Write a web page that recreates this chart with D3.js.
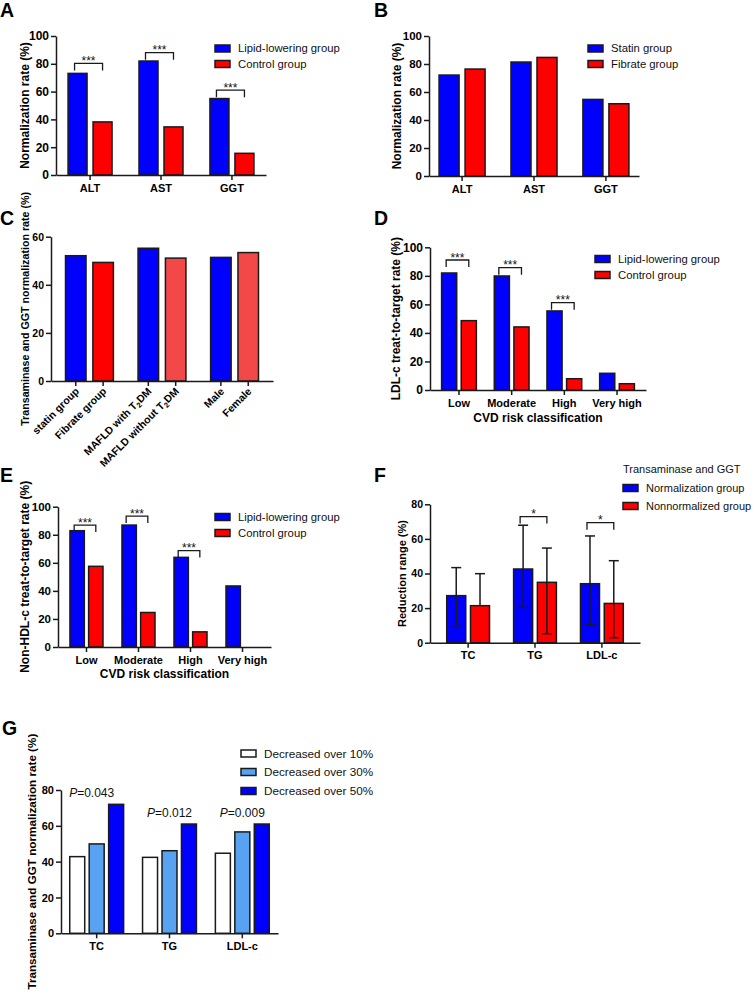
<!DOCTYPE html>
<html>
<head>
<meta charset="utf-8">
<script src="https://cdn.jsdelivr.net/npm/d3@7"></script>
<style>
  html, body { margin: 0; padding: 0; background: #fff; }
  svg { display: block; }
</style>
</head>
<body>
<script>
// ---------------- DATA ----------------
// Panel A
const aCats = ["ALT", "AST", "GGT"];
const aLipid = [73.1, 82.0, 55.0];
const aControl = [38.2, 34.6, 15.6];
const aBrackets = [80.3, 88.0, 61.0];
const aStars = ["***", "***", "***"];
// Panel B
const bCats = ["ALT", "AST", "GGT"];
const bStatin = [72.1, 81.4, 54.7];
const bFibrate = [76.4, 84.7, 51.6];
// Panel C
const cLabels = ["statin group", "Fibrate group", "MAFLD with T2DM", "MAFLD without T2DM", "Male", "Female"];
const cValues = [52.1, 49.3, 55.2, 51.1, 51.4, 53.4];
const cColors = ["#0000ff", "#ff0000", "#0000ff", "#f24848", "#0000ff", "#f24848"];
// Panel D
const riskCats = ["Low", "Moderate", "High", "Very high"];
const dLipid = [82.0, 79.9, 55.4, 11.7];
const dControl = [48.6, 44.2, 7.9, 4.4];
const dBrackets = [91.1, 85.7, 61.2, null];
const dStars = ["***", "***", "***", ""];
// Panel E
const eLipid = [82.9, 86.9, 63.9, 43.5];
const eControl = [57.5, 24.6, 10.8, 0];
const eBrackets = [86.9, 93.3, 68.7, null];
const eStars = ["***", "***", "***", ""];
// Panel F
const lipidCats = ["TC", "TG", "LDL-c"];
const fNorm = [27.2, 42.6, 34.1];
const fNormHi = [43.4, 67.9, 61.7];
const fNormLo = [9.8, 20.4, 10.6];
const fNon = [21.4, 34.9, 22.7];
const fNonHi = [39.9, 54.7, 47.4];
const fNonLo = [null, 5.2, 2.9];
const fBrackets = [null, 72.9, 69.4];
const fStars = ["", "*", "*"];
// Panel G
const g10 = [42.8, 42.4, 44.7];
const g30 = [49.9, 46.1, 56.6];
const g50 = [72.0, 61.0, 61.0];
const gP = ["0.043", "0.012", "0.009"];
// Ticks
const ticks100 = [0, 20, 40, 60, 80, 100];
const ticks80 = [0, 20, 40, 60, 80];
const ticks60 = [0, 20, 40, 60];

// ---------------- STYLE ----------------
const FONT = "'Liberation Sans', Arial, Helvetica, sans-serif";
const BLUE = "#0000ff", RED = "#ff0000", LBLUE = "#57a3f2", WHITE = "#ffffff";
const INK = "#1a1a1a";

const svg = d3.select("body").append("svg")
  .attr("width", 754).attr("height", 992)
  .style("font-family", FONT);

function styleAxis(sel, fs) {
  sel.selectAll("path, line").attr("stroke", INK).attr("stroke-width", 1.5);
  sel.selectAll("text").attr("fill", "#000").attr("font-weight", "bold")
    .attr("font-size", fs).attr("font-family", FONT);
}

function panelLetter(t, x, y) {
  svg.append("text").attr("x", x).attr("y", y).text(t)
    .attr("font-size", 19.5).attr("font-weight", "bold").attr("fill", "#000");
}

function legend(x, ys, items, fs) {
  items.forEach((it, i) => {
    svg.append("rect").attr("x", x).attr("y", ys[i] - 3.5).attr("width", 15).attr("height", 7)
      .attr("fill", it.color).attr("stroke", INK).attr("stroke-width", 1.5);
    svg.append("text").attr("x", x + 23).attr("y", ys[i]).attr("dy", "0.35em")
      .attr("font-size", fs).attr("fill", "#111").text(it.label);
  });
}

function groupedPanel(c) {
  const y = d3.scaleLinear().domain([0, c.max]).range([c.yBot, c.yTop]);
  const x0 = d3.scaleBand().domain(c.cats).range([c.x0, c.x1])
    .paddingInner(c.padIn).paddingOuter(c.padOut);
  const x1 = d3.scaleBand().domain(d3.range(c.series.length))
    .range([0, x0.bandwidth()]).paddingInner(c.innerPad);
  const g = svg.append("g");

  c.series.forEach((s, si) => {
    g.selectAll(null).data(s.values).join("rect")
      .attr("x", (d, i) => x0(c.cats[i]) + x1(si))
      .attr("y", d => y(d))
      .attr("width", x1.bandwidth())
      .attr("height", d => y(0) - y(d))
      .attr("fill", (d, i) => s.colors ? s.colors[i] : s.color)
      .attr("stroke", INK).attr("stroke-width", 1.5)
      .style("display", d => d > 0 ? null : "none");
    if (s.hi) {
      s.values.forEach((v, i) => {
        const cx = x0(c.cats[i]) + x1(si) + x1.bandwidth() / 2;
        const top = y(s.hi[i]);
        const bot = s.lo[i] == null ? y(v) : y(s.lo[i]);
        g.append("line").attr("x1", cx).attr("x2", cx).attr("y1", top).attr("y2", bot)
          .attr("stroke", INK).attr("stroke-width", 1.5);
        g.append("line").attr("x1", cx - 5).attr("x2", cx + 5).attr("y1", top).attr("y2", top)
          .attr("stroke", INK).attr("stroke-width", 1.5);
        if (s.lo[i] != null) {
          g.append("line").attr("x1", cx - 5).attr("x2", cx + 5).attr("y1", bot).attr("y2", bot)
            .attr("stroke", INK).attr("stroke-width", 1.5);
        }
      });
    }
  });

  // brackets
  if (c.brackets) {
    c.brackets.forEach((b, i) => {
      if (b == null) return;
      const bw = x1.bandwidth();
      const xl = x0(c.cats[i]) + x1(0) + bw / 2 - 3;
      const xr = x0(c.cats[i]) + x1(1) + bw / 2;
      const yb = y(b);
      g.append("path").attr("d", `M${xl},${yb + 7}V${yb}H${xr}V${yb + 7}`)
        .attr("fill", "none").attr("stroke", INK).attr("stroke-width", 1.3);
      g.append("text").attr("x", (xl + xr) / 2).attr("y", yb + 1.5)
        .attr("text-anchor", "middle").attr("font-size", 12).attr("fill", "#111")
        .text(c.stars[i]);
    });
  }

  // axes
  const ya = g.append("g").attr("transform", `translate(${c.x0},0)`)
    .call(d3.axisLeft(y).tickValues(c.ticks).tickSize(5).tickPadding(2).tickSizeOuter(0));
  styleAxis(ya, c.yfs || 12);
  const xAxis = d3.axisBottom(x0).tickSize(5).tickPadding(4).tickSizeOuter(0);
  if (c.noXTicks) xAxis.tickValues([]);
  const xa = g.append("g").attr("transform", `translate(0,${c.yBot})`).call(xAxis);
  styleAxis(xa, c.xfs || 11);

  // y title
  g.append("text")
    .attr("transform", `translate(${c.titleX},${(c.yTop + c.yBot) / 2}) rotate(-90)`)
    .attr("text-anchor", "middle").attr("dy", "0.35em")
    .attr("font-size", c.titleSize || 12).attr("font-weight", "bold").attr("fill", "#000")
    .text(c.title);
  if (c.xTitle) {
    g.append("text").attr("x", (c.x0 + c.x1) / 2).attr("y", c.xTitleY).attr("dy", "0.35em")
      .attr("text-anchor", "middle").attr("font-size", 12).attr("font-weight", "bold")
      .attr("fill", "#000").text(c.xTitle);
  }
  return { g, y, x0, x1 };
}

// ---------------- PANEL A ----------------
panelLetter("A", 0, 17);
groupedPanel({
  x0: 56, x1: 266, yTop: 36, yBot: 175, max: 100, ticks: ticks100, yfs: 12,
  cats: aCats, padIn: 0.38, padOut: 0.17, innerPad: 0.24,
  series: [{ values: aLipid, color: BLUE }, { values: aControl, color: RED }],
  brackets: aBrackets, stars: aStars,
  title: "Normalization rate (%)", titleX: 25
});
legend(215, [48.5, 64], [{ label: "Lipid-lowering group", color: BLUE }, { label: "Control group", color: RED }], 11.3);

// ---------------- PANEL B ----------------
panelLetter("B", 374, 17);
groupedPanel({
  x0: 429, x1: 639, yTop: 36, yBot: 176, max: 100, ticks: ticks100, yfs: 11.5,
  cats: bCats, padIn: 0.36, padOut: 0.14, innerPad: 0.23,
  series: [{ values: bStatin, color: BLUE }, { values: bFibrate, color: RED }],
  title: "Normalization rate (%)", titleX: 397
});
legend(588, [48.5, 64], [{ label: "Statin group", color: BLUE }, { label: "Fibrate group", color: RED }], 11.3);

// ---------------- PANEL C ----------------
panelLetter("C", 0, 225);
const cGroups = ["g0", "g1", "g2"];
const cSeries = [0, 1].map(k => ({
  values: cGroups.map((_, gi) => cValues[gi * 2 + k]),
  colors: cGroups.map((_, gi) => cColors[gi * 2 + k])
}));
const pc = groupedPanel({
  x0: 51, x1: 273, yTop: 236.7, yBot: 381, max: 60, ticks: ticks60, yfs: 10.5,
  cats: cGroups, padIn: 0.34, padOut: 0.2, innerPad: 0.25,
  series: cSeries, noXTicks: true,
  title: "Transaminase and GGT normalization rate (%)", titleX: 25, titleSize: 10.7
});
cLabels.forEach((lab, i) => {
  const gi = Math.floor(i / 2), k = i % 2;
  const cx = pc.x0(cGroups[gi]) + pc.x1(k) + pc.x1.bandwidth() / 2;
  pc.g.append("line").attr("x1", cx).attr("x2", cx).attr("y1", 381).attr("y2", 386)
    .attr("stroke", INK).attr("stroke-width", 1.5);
  const t = pc.g.append("text")
    .attr("transform", `translate(${cx + 4},${392}) rotate(-45)`)
    .attr("text-anchor", "end").attr("font-size", 10.5).attr("font-weight", "bold").attr("fill", "#000");
  const parts = lab.split("T2DM");
  if (parts.length > 1) {
    t.append("tspan").text(parts[0] + "T");
    t.append("tspan").attr("font-size", 7.5).attr("dy", 2.5).text("2");
    t.append("tspan").attr("dy", -2.5).text("DM");
  } else {
    t.text(lab);
  }
});

// ---------------- PANEL D ----------------
panelLetter("D", 374, 225);
groupedPanel({
  x0: 430, x1: 646, yTop: 247.3, yBot: 390, max: 100, ticks: ticks100, yfs: 12,
  cats: riskCats, padIn: 0.34, padOut: 0.22, innerPad: 0.23,
  series: [{ values: dLipid, color: BLUE }, { values: dControl, color: RED }],
  brackets: dBrackets, stars: dStars,
  title: "LDL-c treat-to-target rate (%)", titleX: 396,
  xTitle: "CVD risk classification", xTitleY: 418
});
legend(595, [259, 275], [{ label: "Lipid-lowering group", color: BLUE }, { label: "Control group", color: RED }], 11.3);

// ---------------- PANEL E ----------------
panelLetter("E", 0, 482);
groupedPanel({
  x0: 58, x1: 271, yTop: 506.7, yBot: 647, max: 100, ticks: ticks100, yfs: 11.5,
  cats: riskCats, padIn: 0.365, padOut: 0.23, innerPad: 0.23,
  series: [{ values: eLipid, color: BLUE }, { values: eControl, color: RED }],
  brackets: eBrackets, stars: eStars,
  title: "Non-HDL-c treat-to-target rate (%)", titleX: 25,
  xTitle: "CVD risk classification", xTitleY: 674
});
legend(215, [517, 533], [{ label: "Lipid-lowering group", color: BLUE }, { label: "Control group", color: RED }], 11.3);

// ---------------- PANEL F ----------------
panelLetter("F", 374, 482);
groupedPanel({
  x0: 430, x1: 640, yTop: 504.3, yBot: 642.7, max: 80, ticks: ticks80, yfs: 10.5,
  cats: lipidCats, padIn: 0.36, padOut: 0.25, innerPad: 0.2,
  series: [
    { values: fNorm, hi: fNormHi, lo: fNormLo, color: BLUE },
    { values: fNon, hi: fNonHi, lo: fNonLo, color: RED }
  ],
  brackets: fBrackets, stars: fStars,
  title: "Reduction range (%)", titleX: 402, titleSize: 11
});
svg.append("text").attr("x", 623).attr("y", 469).attr("dy", "0.35em")
  .attr("font-size", 11).attr("fill", "#111").text("Transaminase and GGT");
legend(623, [488, 506], [{ label: "Normalization group", color: BLUE }, { label: "Nonnormalized group", color: RED }], 11);

// ---------------- PANEL G ----------------
panelLetter("G", 2, 735);
const pg = groupedPanel({
  x0: 61, x1: 278, yTop: 790, yBot: 933.3, max: 80, ticks: ticks80, yfs: 11,
  cats: lipidCats, padIn: 0.26, padOut: 0.12, innerPad: 0.23,
  series: [
    { values: g10, color: WHITE },
    { values: g30, color: LBLUE },
    { values: g50, color: BLUE }
  ],
  title: "Transaminase and GGT normalization rate (%)", titleX: 32, titleSize: 11.7
});
gP.forEach((p, i) => {
  const cx = pg.x0(lipidCats[i]) + pg.x0.bandwidth() / 2;
  const top = pg.y(Math.max(g10[i], g30[i], g50[i]));
  const t = svg.append("text").attr("x", cx - (i === 0 ? 5 : 0)).attr("y", top - 7)
    .attr("text-anchor", "middle").attr("font-size", 12).attr("fill", "#111");
  t.append("tspan").attr("font-style", "italic").text("P");
  t.append("tspan").text("=" + p);
});
legend(241, [753.5, 772, 791], [
  { label: "Decreased over 10%", color: WHITE },
  { label: "Decreased over 30%", color: LBLUE },
  { label: "Decreased over 50%", color: BLUE }
], 11.7);
</script>
</body>
</html>
